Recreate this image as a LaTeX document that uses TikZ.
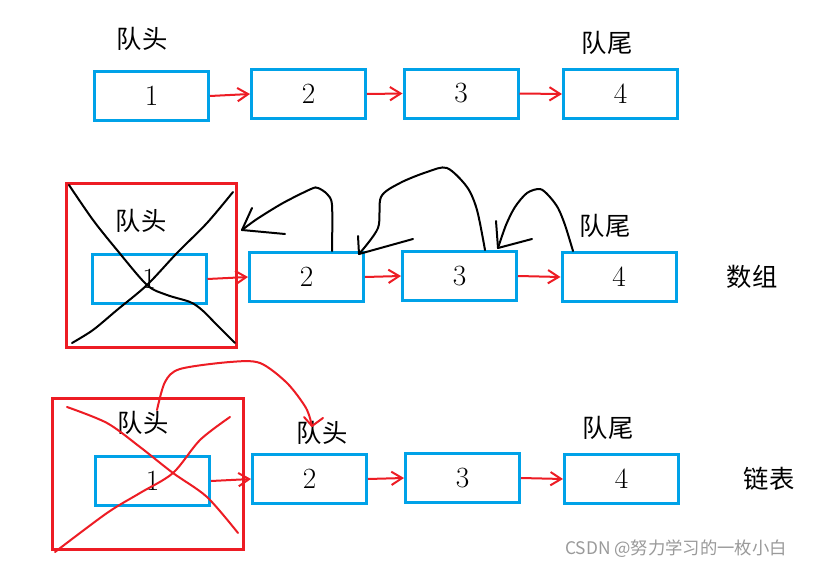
\documentclass[tikz,border=0pt]{standalone}
\usepackage{fontspec}
\newfontfamily\cjk{Noto Sans CJK SC}
\usetikzlibrary{arrows.meta}
\definecolor{qblue}{HTML}{00A2E8}
\definecolor{qred}{HTML}{ED1C24}
\definecolor{wmgray}{HTML}{9A9A9A}
\begin{document}
\begin{tikzpicture}[x=0.75pt,y=-0.75pt,
  cell/.style={draw=qblue, line width=2.25pt, minimum width=85.5pt, minimum height=36.75pt,
    inner sep=0pt, font=\fontsize{22}{26}\selectfont},
  crossbox/.style={draw=qred, line width=2.25pt, inner sep=0pt},
  lbl/.style={font=\cjk\fontsize{19}{22}\selectfont, inner sep=0pt},
  redarr/.style={draw=qred, line width=1.5pt, -{Straight Barb[length=8pt,width=10pt,line width=1.5pt]}},
  blkcurve/.style={draw=black, line width=1.5pt, line join=round, line cap=round},
  redcurve/.style={draw=qred, line width=1.5pt, line join=round, line cap=round},
]
\useasboundingbox (0,0) rectangle (815,571);
\fill[white] (0,0) rectangle (815,571);

% ---------- row 1 ----------
\node[cell] (a1) at (151.5,96) {1};
\node[cell] (a2) at (308.5,94) {2};
\node[cell] (a3) at (461,93.5) {3};
\node[cell] (a4) at (620.5,94) {4};
\node[lbl] (ah) at (142,39) {队头};
\node[lbl] (at) at (607,43) {队尾};
\draw[redarr] (a1.east) -- (a2.west);
\draw[redarr] (a2.east) -- (a3.west);
\draw[redarr] (a3.east) -- (a4.west);

% ---------- row 2 ----------
\node[crossbox, minimum width=127.5pt, minimum height=123pt] (rb2) at (151.5,265.5) {};
\node[cell] (b1) at (149,279) {1};
\node[cell] (b2) at (306.5,277) {2};
\node[cell] (b3) at (459.5,276) {3};
\node[cell] (b4) at (619,277) {4};
\node[lbl] (bh) at (141,221) {队头};
\node[lbl] (bt) at (605,226) {队尾};
\node[lbl] (bs) at (752,277) {数组};
\draw[redarr] (b1.east) -- (b2.west);
\draw[redarr] (b2.east) -- (b3.west);
\draw[redarr] (b3.east) -- (b4.west);
% crossing out
\draw[blkcurve] plot[smooth, tension=0.5] coordinates {(69,185) (93,220) (117,250) (147,285) (167,295) (190,302) (202,310) (217,325) (235,343)};
\draw[blkcurve] plot[smooth, tension=0.5] coordinates {(233,192) (207,223) (177,253) (147,285) (117,310) (93,330) (72,343)};
% shifting arrows
\coordinate (s2) at (332,251);
\coordinate (t2) at (242,230);
\coordinate (s3) at (485,250);
\coordinate (t3) at (359,254);
\coordinate (s4) at (573,251);
\coordinate (t4) at (498,248);
\draw[blkcurve] plot[smooth, tension=0.5] coordinates {(s2) (332,205) (327,194) (318,188) (311,189) (283,203) (257,219) (t2)};
\draw[blkcurve] (t2) -- ++(10,-22);
\draw[blkcurve] (t2) -- ++(43,4);
\draw[blkcurve] plot[smooth, tension=0.5] coordinates {(s3) (477,210) (467,187) (447,168) (427,172) (400,183) (381,197) (378,228) (t3)};
\draw[blkcurve] (t3) -- ++(-1,-18);
\draw[blkcurve] (t3) -- ++(54,-15);
\draw[blkcurve] plot[smooth, tension=0.5] coordinates {(s4) (565,225) (558,208) (549,196) (540,189) (527,193) (515,207) (506,225) (t4)};
\draw[blkcurve] (t4) -- ++(-2,-27);
\draw[blkcurve] (t4) -- ++(34,-9);

% ---------- row 3 ----------
\node[crossbox, minimum width=143.25pt, minimum height=113.25pt] (rb3) at (148,474) {};
\node[cell] (c1) at (152.5,481) {1};
\node[cell] (c2) at (309.5,479) {2};
\node[cell] (c3) at (462.5,478) {3};
\node[cell] (c4) at (621.5,479) {4};
\node[lbl] (ch) at (143,423) {队头};
\node[lbl] (ch2) at (322,433) {队头};
\node[lbl] (ct) at (608,428) {队尾};
\node[lbl] (cl) at (769,479) {链表};
\draw[redarr] (c1.east) -- (c2.west);
\draw[redarr] (c2.east) -- (c3.west);
\draw[redarr] (c3.east) -- (c4.west);
% crossing out
\draw[redcurve] plot[smooth, tension=0.5] coordinates {(67,407) (107,423) (140,447) (173,473) (207,497) (238,533)};
\draw[redcurve] plot[smooth, tension=0.5] coordinates {(230,417) (200,440) (173,473) (140,493) (107,513) (55,552)};
% head moves
\coordinate (h1) at (157,410);
\coordinate (h2) at (312,426);
\draw[redcurve] plot[smooth, tension=0.5] coordinates {(h1) (165,382) (180,369) (230,362) (260,363) (287,383) (306,408) (h2)};
\draw[redcurve] (h2) -- ++(-8,-9);
\draw[redcurve] (h2) -- ++(11,-8);

% watermark
\node[font=\cjk\fontsize{13}{15}\selectfont, text=wmgray, inner sep=0pt] (wm) at (676,549) {CSDN @努力学习的一枚小白};
\end{tikzpicture}
\end{document}
